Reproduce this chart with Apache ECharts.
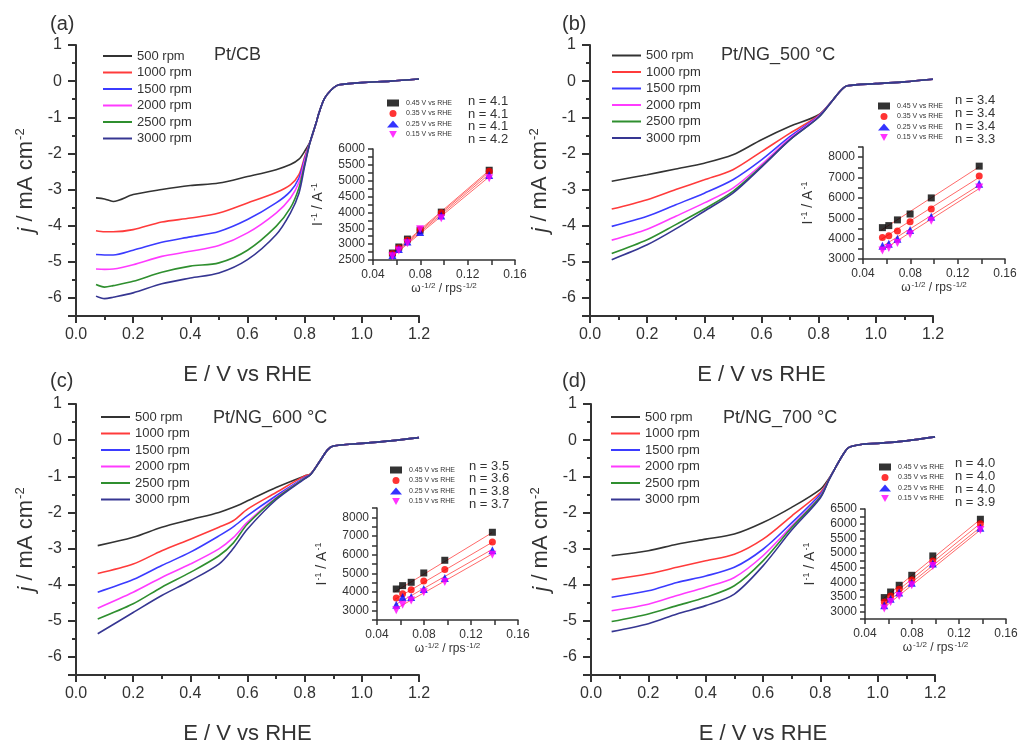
<!DOCTYPE html>
<html>
<head>
<meta charset="utf-8">
<script src="https://cdn.jsdelivr.net/npm/echarts@6.0.0/dist/echarts.min.js"></script>
<style>
  html, body { margin: 0; padding: 0; background: #fff; }
  #chart { width: 1025px; height: 753px; }
</style>
</head>
<body>
<div id="chart"></div>
<script>
// ---- data ----
var rpmNames = ['500 rpm', '1000 rpm', '1500 rpm', '2000 rpm', '2500 rpm', '3000 rpm'];
var potNames = ['0.45 V vs RHE', '0.35 V vs RHE', '0.25 V vs RHE', '0.15 V vs RHE'];
var rpmColors = ['#333333', '#ff3b3b', '#3b3bff', '#ff3bff', '#2f8f2f', '#363692'];
var potColors = ['#000000', '#ff0000', '#0000ff', '#ff00ff'];

// (a) Pt/CB
var eA = [0.07, 0.1, 0.13, 0.2, 0.3, 0.4, 0.5, 0.6, 0.7, 0.75, 0.78, 0.8, 0.82, 0.84, 0.85, 0.87, 0.9, 0.92, 1.0, 1.1, 1.2];
var a500  = [-3.23, -3.26, -3.33, -3.14, -3.0, -2.89, -2.82, -2.64, -2.45, -2.31, -2.16, -1.94, -1.66, -1.16, -0.88, -0.47, -0.19, -0.1, -0.04, 0.0, 0.06];
var a1000 = [-4.14, -4.17, -4.17, -4.11, -3.9, -3.79, -3.65, -3.37, -3.08, -2.87, -2.59, -2.1, -1.66, -1.16, -0.88, -0.47, -0.19, -0.1, -0.04, 0.0, 0.06];
var a1500 = [-4.8, -4.81, -4.81, -4.68, -4.46, -4.31, -4.16, -3.83, -3.37, -3.05, -2.68, -2.15, -1.66, -1.16, -0.88, -0.47, -0.19, -0.1, -0.04, 0.0, 0.06];
var a2000 = [-5.2, -5.21, -5.2, -5.08, -4.85, -4.71, -4.55, -4.2, -3.65, -3.24, -2.8, -2.2, -1.66, -1.16, -0.88, -0.47, -0.19, -0.1, -0.04, 0.0, 0.06];
var a2500 = [-5.63, -5.7, -5.66, -5.54, -5.29, -5.12, -5.03, -4.68, -4.02, -3.51, -2.95, -2.3, -1.66, -1.16, -0.88, -0.47, -0.19, -0.1, -0.04, 0.0, 0.06];
var a3000 = [-5.95, -6.02, -5.98, -5.86, -5.61, -5.45, -5.31, -4.94, -4.25, -3.65, -3.1, -2.35, -1.66, -1.16, -0.88, -0.47, -0.19, -0.1, -0.04, 0.0, 0.06];

// (b) Pt/NG_500
var eB = [0.076, 0.2, 0.3, 0.4, 0.5, 0.6, 0.7, 0.8, 0.85, 0.88, 0.9, 1.0, 1.1, 1.2];
var b500  = [-2.77, -2.59, -2.43, -2.27, -2.04, -1.62, -1.25, -0.93, -0.52, -0.24, -0.13, -0.07, -0.02, 0.05];
var b1000 = [-3.54, -3.28, -3.0, -2.73, -2.45, -1.95, -1.44, -0.95, -0.52, -0.24, -0.13, -0.07, -0.02, 0.05];
var b1500 = [-4.02, -3.74, -3.42, -3.1, -2.73, -2.18, -1.53, -0.97, -0.52, -0.24, -0.13, -0.07, -0.02, 0.05];
var b2000 = [-4.4, -4.1, -3.74, -3.37, -2.96, -2.31, -1.58, -0.98, -0.52, -0.24, -0.13, -0.07, -0.02, 0.05];
var b2500 = [-4.77, -4.39, -3.97, -3.54, -3.05, -2.36, -1.62, -1.0, -0.52, -0.24, -0.13, -0.07, -0.02, 0.05];
var b3000 = [-4.94, -4.53, -4.09, -3.6, -3.1, -2.38, -1.62, -1.0, -0.52, -0.24, -0.13, -0.07, -0.02, 0.05];

// (c) Pt/NG_600
var eC = [0.076, 0.2, 0.3, 0.4, 0.5, 0.55, 0.6, 0.7, 0.8, 0.82, 0.85, 0.88, 0.9, 1.0, 1.1, 1.2];
var c500  = [-2.92, -2.69, -2.41, -2.2, -2.0, -1.86, -1.68, -1.31, -0.99, -0.94, -0.62, -0.27, -0.16, -0.09, -0.02, 0.07];
var c1000 = [-3.69, -3.43, -3.06, -2.74, -2.41, -2.23, -1.91, -1.45, -0.99, -0.94, -0.62, -0.27, -0.16, -0.09, -0.02, 0.07];
var c1500 = [-4.21, -3.86, -3.47, -3.1, -2.65, -2.4, -2.09, -1.54, -1.03, -0.95, -0.62, -0.27, -0.16, -0.09, -0.02, 0.07];
var c2000 = [-4.65, -4.21, -3.8, -3.43, -3.01, -2.7, -2.27, -1.59, -1.05, -0.96, -0.62, -0.27, -0.16, -0.09, -0.02, 0.07];
var c2500 = [-4.95, -4.53, -4.07, -3.66, -3.2, -2.85, -2.32, -1.61, -1.06, -0.96, -0.62, -0.27, -0.16, -0.09, -0.02, 0.07];
var c3000 = [-5.36, -4.77, -4.3, -3.89, -3.43, -3.0, -2.46, -1.65, -1.07, -0.96, -0.62, -0.27, -0.16, -0.09, -0.02, 0.07];

// (d) Pt/NG_700
var eD = [0.072, 0.2, 0.3, 0.4, 0.5, 0.6, 0.7, 0.8, 0.83, 0.85, 0.88, 0.9, 0.95, 1.0, 1.1, 1.2];
var d500  = [-3.2, -3.06, -2.88, -2.74, -2.6, -2.28, -1.86, -1.36, -1.06, -0.8, -0.39, -0.2, -0.11, -0.09, -0.02, 0.09];
var d1000 = [-3.86, -3.7, -3.52, -3.34, -3.16, -2.74, -2.1, -1.45, -1.08, -0.8, -0.39, -0.2, -0.11, -0.09, -0.02, 0.09];
var d1500 = [-4.35, -4.17, -3.94, -3.76, -3.52, -3.02, -2.29, -1.5, -1.1, -0.8, -0.39, -0.2, -0.11, -0.09, -0.02, 0.09];
var d2000 = [-4.72, -4.54, -4.3, -4.07, -3.8, -3.2, -2.38, -1.55, -1.1, -0.8, -0.39, -0.2, -0.11, -0.09, -0.02, 0.09];
var d2500 = [-5.02, -4.81, -4.58, -4.35, -4.03, -3.34, -2.42, -1.57, -1.1, -0.8, -0.39, -0.2, -0.11, -0.09, -0.02, 0.09];
var d3000 = [-5.3, -5.08, -4.81, -4.58, -4.26, -3.48, -2.49, -1.6, -1.1, -0.8, -0.39, -0.2, -0.11, -0.09, -0.02, 0.09];

// Koutecky-Levich insets: omega^-1/2 for 3000..500 rpm
var omegaInv = [0.0564, 0.0618, 0.0691, 0.0798, 0.0977, 0.1382];
var fitX = [0.055, 0.138];

var klA45 = [2720, 2910, 3160, 3440, 4010, 5330];
var klA35 = [2700, 2880, 3120, 3450, 3990, 5300];
var klA25 = [2660, 2850, 3080, 3380, 3900, 5180];
var klA15 = [2620, 2800, 3030, 3470, 3820, 5080];
var fitA45 = [2660, 5320], fitA35 = [2630, 5270], fitA25 = [2600, 5200], fitA15 = [2570, 5120];

var klB45 = [4540, 4640, 4920, 5210, 6000, 7560];
var klB35 = [4060, 4140, 4380, 4830, 5450, 7070];
var klB25 = [3650, 3750, 3990, 4430, 5080, 6700];
var klB15 = [3420, 3540, 3780, 4220, 4880, 6510];
var fitB45 = [4400, 7520], fitB35 = [3950, 7000], fitB25 = [3570, 6620], fitB15 = [3380, 6450];

var klC45 = [4160, 4340, 4520, 5020, 5700, 7200];
var klC35 = [3680, 3910, 4120, 4590, 5200, 6680];
var klC25 = [3320, 3730, 3730, 4160, 4750, 6230];
var klC15 = [3020, 3320, 3550, 3980, 4540, 6000];
var fitC45 = [4000, 7180], fitC35 = [3600, 6660], fitC25 = [3300, 6280], fitC15 = [3060, 6040];

var klD45 = [3480, 3670, 3900, 4240, 4900, 6150];
var klD35 = [3330, 3530, 3760, 4080, 4730, 6000];
var klD25 = [3215, 3440, 3650, 3990, 4640, 5860];
var klD15 = [3110, 3330, 3530, 3900, 4560, 5780];
var fitD45 = [3420, 6140], fitD35 = [3300, 6000], fitD25 = [3200, 5870], fitD15 = [3100, 5780];

var nA = ['4.1', '4.1', '4.1', '4.2'];
var nB = ['3.4', '3.4', '3.4', '3.3'];
var nC = ['3.5', '3.6', '3.8', '3.7'];
var nD = ['4.0', '4.0', '4.0', '3.9'];

// ---- panels ----
var panels = [
  { tag: '(a)', sample: 'Pt/CB', e: eA, curves: [a500, a1000, a1500, a2000, a2500, a3000],
    kl: [klA45, klA35, klA25, klA15], fit: [fitA45, fitA35, fitA25, fitA15], n: nA,
    klMin: 2500, klMax: 6000, klStep: 250, klLabelStep: 500,
    main: { left: 76, top: 45, width: 343, height: 271 }, inset: { left: 373, top: 149, width: 142, height: 111 },
    tagPos: [50, 24], samplePos: [214, 55], legPos: [103, 49.5], insLeg: [387, 99.5], nPos: [468, 101.5, 12.5] },
  { tag: '(b)', sample: 'Pt/NG_500 °C', e: eB, curves: [b500, b1000, b1500, b2000, b2500, b3000],
    kl: [klB45, klB35, klB25, klB15], fit: [fitB45, fitB35, fitB25, fitB15], n: nB,
    klMin: 3000, klMax: 8500, klStep: 500, klLabelStep: 1000,
    main: { left: 590, top: 45, width: 343, height: 271 }, inset: { left: 863, top: 147, width: 142, height: 112 },
    tagPos: [562, 24], samplePos: [721, 55], legPos: [612, 49], insLeg: [878, 102.5], nPos: [955, 100, 13] },
  { tag: '(c)', sample: 'Pt/NG_600 °C', e: eC, curves: [c500, c1000, c1500, c2000, c2500, c3000],
    kl: [klC45, klC35, klC25, klC15], fit: [fitC45, fitC35, fitC25, fitC15], n: nC,
    klMin: 2500, klMax: 8500, klStep: 500, klLabelStep: 1000,
    main: { left: 76, top: 404, width: 343, height: 271 }, inset: { left: 377, top: 508, width: 141, height: 112 },
    tagPos: [50, 381], samplePos: [213, 418], legPos: [101, 410.5], insLeg: [390, 466.5], nPos: [469, 466, 12.7] },
  { tag: '(d)', sample: 'Pt/NG_700 °C', e: eD, curves: [d500, d1000, d1500, d2000, d2500, d3000],
    kl: [klD45, klD35, klD25, klD15], fit: [fitD45, fitD35, fitD25, fitD15], n: nD,
    klMin: 2750, klMax: 6500, klStep: 250, klLabelStep: 500,
    main: { left: 591, top: 404, width: 344, height: 271 }, inset: { left: 865, top: 509, width: 141, height: 110 },
    tagPos: [562, 381], samplePos: [723, 418], legPos: [611, 410.5], insLeg: [879, 463.5], nPos: [955, 463, 13.3] }
];

var FONT = "'Liberation Sans', Arial, sans-serif";
var INK = '#333';
var downTriangle = 'path://M0,0 L10,0 L5,9 Z';

function pairs(xs, ys) { return xs.map(function (x, i) { return [x, ys[i]]; }); }

var grid = [], xAxis = [], yAxis = [], series = [], legend = [], graphic = [];

panels.forEach(function (p, i) {
  var gm = 2 * i, gi = 2 * i + 1;
  grid.push(p.main, p.inset);

  // main axes
  xAxis.push({
    gridIndex: gm, type: 'value', min: 0, max: 1.2, interval: 0.2,
    name: 'E / V vs RHE', nameLocation: 'middle', nameGap: 48,
    nameTextStyle: { fontSize: 22, color: INK, fontFamily: FONT },
    axisLine: { onZero: false, lineStyle: { color: INK, width: 2 } },
    axisTick: { length: 7, lineStyle: { width: 2, color: INK } },
    minorTick: { show: true, splitNumber: 2, length: 4, lineStyle: { width: 2, color: INK } },
    splitLine: { show: false }, minorSplitLine: { show: false },
    axisLabel: { fontSize: 16, color: INK, fontFamily: FONT, margin: 11, formatter: function (v) { return v.toFixed(1); } }
  });
  yAxis.push({
    gridIndex: gm, type: 'value', min: -6.5, max: 1, splitNumber: 8,
    name: '{it|j} / mA cm{sup|-2}', nameLocation: 'middle', nameGap: 38, nameRotate: 90,
    nameTextStyle: { fontSize: 22, color: INK, fontFamily: FONT, verticalAlign: 'bottom',
      rich: { it: { fontSize: 22, fontStyle: 'italic', fontFamily: FONT, color: INK, verticalAlign: 'bottom' },
              sup: { fontSize: 13, fontFamily: FONT, color: INK, verticalAlign: 'bottom', padding: [0, 0, 11, 1] } } },
    axisLine: { onZero: false, lineStyle: { color: INK, width: 2 } },
    axisTick: { length: 8, lineStyle: { width: 2, color: INK } },
    minorTick: { show: true, splitNumber: 2, length: 4, lineStyle: { width: 2, color: INK } },
    splitLine: { show: false }, minorSplitLine: { show: false },
    axisLabel: { fontSize: 16, color: INK, fontFamily: FONT, margin: 14,
      formatter: function (v) { return Number.isInteger(v) ? String(v) : ''; } }
  });

  // inset axes
  xAxis.push({
    gridIndex: gi, type: 'value', min: 0.04, max: 0.16, interval: 0.04,
    name: 'ω{sup|-1/2} / rps{sup|-1/2}', nameLocation: 'middle', nameGap: 36,
    nameTextStyle: { fontSize: 12, color: INK, fontFamily: FONT, verticalAlign: 'bottom',
      rich: { sup: { fontSize: 8, fontFamily: FONT, color: INK, verticalAlign: 'bottom', padding: [0, 0, 6, 1] } } },
    axisLine: { onZero: false, lineStyle: { color: INK, width: 1.5 } },
    axisTick: { length: 5, lineStyle: { width: 1.5, color: INK } },
    minorTick: { show: true, splitNumber: 2, length: 5, lineStyle: { width: 1.5, color: INK } },
    splitLine: { show: false }, minorSplitLine: { show: false },
    axisLabel: { fontSize: 12, color: INK, fontFamily: FONT, margin: 9, formatter: function (v) { return v.toFixed(2); } }
  });
  yAxis.push({
    gridIndex: gi, type: 'value', min: p.klMin, max: p.klMax, interval: p.klStep,
    name: 'I{sup|-1} / A{sup|-1}', nameLocation: 'middle', nameGap: 47, nameRotate: 90,
    nameTextStyle: { fontSize: 14, color: INK, fontFamily: FONT, verticalAlign: 'bottom',
      rich: { sup: { fontSize: 9, fontFamily: FONT, color: INK, verticalAlign: 'bottom', padding: [0, 0, 7, 1] } } },
    axisLine: { onZero: false, lineStyle: { color: INK, width: 1.5 } },
    axisTick: { length: 5, lineStyle: { width: 1.5, color: INK } },
    splitLine: { show: false },
    axisLabel: { fontSize: 12, color: INK, fontFamily: FONT, margin: 8,
      formatter: function (v) { return (v % p.klLabelStep === 0 && v <= 8000) ? String(v) : ''; } }
  });

  // LSV curves
  p.curves.forEach(function (ys, k) {
    series.push({
      type: 'line', name: rpmNames[k], xAxisIndex: gm, yAxisIndex: gm,
      data: pairs(p.e, ys), showSymbol: false, symbol: 'none', smooth: 0.3,
      lineStyle: { width: 1.6, color: rpmColors[k] }, itemStyle: { color: rpmColors[k] }
    });
  });

  // K-L fits and points
  p.fit.forEach(function (ys) {
    series.push({
      type: 'line', name: 'fit', xAxisIndex: gi, yAxisIndex: gi, data: pairs(fitX, ys),
      symbol: 'none', silent: true, z: 1, lineStyle: { width: 1, color: '#ff6a6a' }
    });
  });
  p.kl.forEach(function (ys, k) {
    series.push({
      type: 'scatter', name: potNames[k], xAxisIndex: gi, yAxisIndex: gi, data: pairs(omegaInv, ys),
      symbol: ['rect', 'circle', 'triangle', downTriangle][k],
      symbolSize: k >= 2 ? 8 : 7, z: 3, itemStyle: { color: potColors[k] }
    });
  });

  legend.push({
    orient: 'vertical', left: p.legPos[0], top: p.legPos[1], padding: 0,
    icon: 'rect', itemWidth: 29, itemHeight: 2, itemGap: 3.5, selectedMode: false,
    textStyle: { fontSize: 13, lineHeight: 13, color: INK, fontFamily: FONT },
    data: rpmNames
  });
  legend.push({
    orient: 'vertical', left: p.insLeg[0], top: p.insLeg[1], padding: 0,
    itemWidth: 12, itemHeight: 7, itemGap: 3.5, selectedMode: false,
    textStyle: { fontSize: 7, lineHeight: 7, color: INK, fontFamily: FONT, padding: [0, 0, 0, 2] },
    data: potNames
  });

  graphic.push({ type: 'text', x: p.tagPos[0], y: p.tagPos[1],
    style: { text: p.tag, fontSize: 20, fontFamily: FONT, fill: INK, verticalAlign: 'middle' } });
  graphic.push({ type: 'text', x: p.samplePos[0], y: p.samplePos[1],
    style: { text: p.sample, fontSize: 18, fontFamily: FONT, fill: INK, verticalAlign: 'middle' } });
  p.n.forEach(function (nv, k) {
    graphic.push({ type: 'text', x: p.nPos[0], y: p.nPos[1] + k * p.nPos[2],
      style: { text: 'n = ' + nv, fontSize: 13, fontFamily: FONT, fill: INK, verticalAlign: 'middle' } });
  });
});

var chart = echarts.init(document.getElementById('chart'));
chart.setOption({
  backgroundColor: '#ffffff',
  animation: false,
  textStyle: { fontFamily: FONT },
  grid: grid,
  xAxis: xAxis,
  yAxis: yAxis,
  legend: legend,
  graphic: graphic,
  series: series
});
window.onresize = function () { chart.resize(); };
</script>
</body>
</html>
